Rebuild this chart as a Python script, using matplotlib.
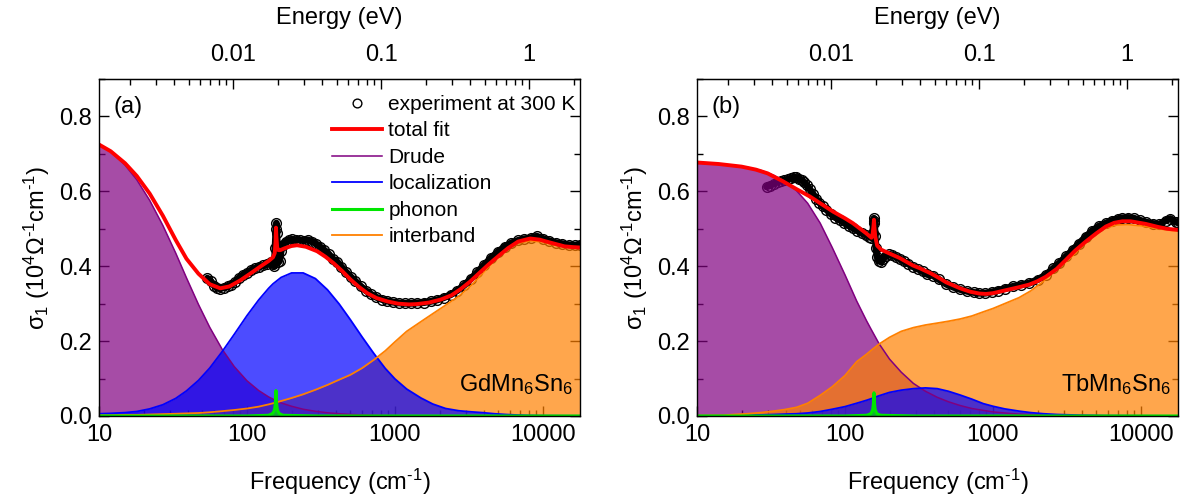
import matplotlib
matplotlib.use("Agg")
import matplotlib.pyplot as plt
from matplotlib.ticker import FixedLocator, LogLocator, MultipleLocator, NullFormatter, FormatStrFormatter

plt.rcParams["font.family"] = ["Liberation Sans", "DejaVu Sans"]
plt.rcParams["mathtext.fontset"] = "custom"
plt.rcParams["mathtext.rm"] = "Liberation Sans"
plt.rcParams["mathtext.it"] = "Liberation Sans:italic"
plt.rcParams["mathtext.default"] = "regular"

# common frequency grid for the fit components (cm^-1)
freq = [10, 12, 15, 18, 22, 27, 33, 39, 47, 56, 68, 82, 100, 120, 140, 150, 170,
        200, 240, 290, 350, 420, 500, 600, 720, 860, 1000, 1200, 1500, 1800, 2200,
        2700, 3300, 3900, 4700, 5600, 6800, 8200, 10000, 12000, 15000, 17800]

# ---- GdMn6Sn6 (a) ----
drude_a = [0.725, 0.706, 0.670, 0.631, 0.576, 0.509, 0.435, 0.369, 0.298, 0.237, 0.178,
           0.132, 0.094, 0.068, 0.051, 0.045, 0.035, 0.026, 0.018, 0.0125, 0.0086, 0.006,
           0.0042, 0.003, 0.002, 0.0014, 0.001, 0.0007, 0.0005, 0.0003, 0.0002, 0.0001,
           0, 0, 0, 0, 0, 0, 0, 0, 0, 0]
local_a = [0.006, 0.007, 0.009, 0.012, 0.019, 0.030, 0.047, 0.067, 0.095, 0.128, 0.172,
           0.218, 0.268, 0.310, 0.341, 0.353, 0.370, 0.382, 0.382, 0.367, 0.337, 0.299,
           0.257, 0.211, 0.167, 0.127, 0.099, 0.072, 0.048, 0.032, 0.020, 0.014, 0.011,
           0.009, 0.006, 0.004, 0.0025, 0.0015, 0.001, 0.0008, 0.0006, 0.0005]
inter_a = [0.002, 0.002, 0.003, 0.003, 0.004, 0.005, 0.006, 0.007, 0.008, 0.010, 0.013,
           0.016, 0.020, 0.025, 0.031, 0.034, 0.040, 0.048, 0.058, 0.070, 0.083, 0.097,
           0.110, 0.128, 0.150, 0.174, 0.198, 0.226, 0.252, 0.273, 0.296, 0.320, 0.350,
           0.380, 0.415, 0.443, 0.462, 0.468, 0.465, 0.457, 0.450, 0.448]

fit_freq_a = [10, 12, 15, 18, 22, 27, 33, 39, 47, 56, 66, 76, 90, 105, 123, 140, 150, 154,
              156, 157, 158, 160, 163, 168, 180, 200, 218, 250, 298, 340, 385, 440, 502,
              570, 650, 750, 888, 1050, 1250, 1416, 1700, 2040, 2400, 2760, 3200, 3720,
              4300, 5000, 5800, 6800, 8200, 9500, 10300, 12000, 14000, 16000, 17800]
fit_a = [0.725, 0.707, 0.675, 0.641, 0.594, 0.535, 0.470, 0.420, 0.380, 0.352, 0.341,
         0.346, 0.362, 0.380, 0.399, 0.414, 0.424, 0.435, 0.465, 0.503, 0.480, 0.450,
         0.443, 0.443, 0.448, 0.454, 0.456, 0.452, 0.440, 0.425, 0.408, 0.387, 0.364,
         0.345, 0.328, 0.315, 0.306, 0.300, 0.298, 0.299, 0.303, 0.311, 0.322, 0.338,
         0.358, 0.382, 0.405, 0.427, 0.448, 0.466, 0.474, 0.471, 0.467, 0.460, 0.453,
         0.451, 0.450]

exp_freq_a = [54, 57, 60, 63, 66, 70, 74, 78, 83, 88, 94, 100, 107, 114, 121, 129, 137,
              145, 150, 153, 155, 157, 158, 159, 161, 163, 166, 170, 176, 183, 192, 202,
              214, 228, 242, 258, 275, 293, 312, 333, 356, 380, 406, 435, 466, 502, 540,
              585, 635, 690, 750, 820, 888, 970, 1060, 1160, 1280, 1416, 1570, 1740, 1930,
              2140, 2380, 2640, 2930, 3250, 3600, 4000, 4450, 4950, 5500, 6100, 6800, 7500,
              8300, 9100, 10000, 11000, 12200, 13500, 15000, 16400, 17800]
exp_a = [0.368, 0.360, 0.348, 0.341, 0.340, 0.343, 0.346, 0.350, 0.358, 0.368, 0.377,
         0.383, 0.390, 0.395, 0.399, 0.402, 0.405, 0.410, 0.405, 0.400, 0.450, 0.500,
         0.515, 0.490, 0.430, 0.410, 0.415, 0.440, 0.458, 0.466, 0.470, 0.472, 0.470,
         0.470, 0.468, 0.470, 0.466, 0.460, 0.452, 0.443, 0.433, 0.420, 0.412, 0.398,
         0.385, 0.372, 0.360, 0.347, 0.335, 0.325, 0.317, 0.311, 0.307, 0.304, 0.302,
         0.301, 0.301, 0.302, 0.303, 0.306, 0.310, 0.316, 0.324, 0.335, 0.349, 0.366,
         0.384, 0.403, 0.422, 0.438, 0.452, 0.462, 0.469, 0.473, 0.476, 0.480, 0.474,
         0.468, 0.463, 0.460, 0.457, 0.456, 0.458]

phonon_freq = [10, 100, 140, 148, 152, 154, 155.5, 156.5, 157, 157.5, 158.5, 160, 162,
               166, 175, 300, 17800]
phonon_a = [0, 0, 0.002, 0.006, 0.012, 0.020, 0.035, 0.055, 0.068, 0.055, 0.035, 0.020,
            0.012, 0.006, 0.002, 0, 0]

# ---- TbMn6Sn6 (b) ----
drude_b = [0.675, 0.674, 0.672, 0.669, 0.664, 0.656, 0.643, 0.627, 0.602, 0.568, 0.515,
           0.450, 0.377, 0.307, 0.254, 0.232, 0.193, 0.152, 0.117, 0.087, 0.066, 0.050,
           0.038, 0.028, 0.020, 0.015, 0.011, 0.008, 0.005, 0.004, 0.003, 0.002, 0.0015,
           0.001, 0.001, 0.0008, 0.0006, 0.0004, 0.0003, 0.0002, 0.0001, 0]
local_b = [0.001, 0.001, 0.0015, 0.002, 0.002, 0.003, 0.004, 0.005, 0.006, 0.008, 0.012,
           0.018, 0.025, 0.034, 0.042, 0.046, 0.054, 0.063, 0.069, 0.073, 0.075, 0.073,
           0.066, 0.056, 0.045, 0.033, 0.026, 0.019, 0.013, 0.009, 0.006, 0.004, 0.003,
           0.002, 0.0015, 0.001, 0.001, 0.0008, 0.0006, 0.0005, 0.0004, 0.0003]
inter_b = [0.001, 0.0015, 0.002, 0.004, 0.006, 0.009, 0.013, 0.017, 0.023, 0.034, 0.055,
           0.078, 0.108, 0.145, 0.165, 0.175, 0.192, 0.210, 0.226, 0.236, 0.243, 0.248,
           0.253, 0.259, 0.267, 0.278, 0.287, 0.300, 0.316, 0.334, 0.360, 0.393, 0.420,
           0.448, 0.480, 0.500, 0.510, 0.511, 0.508, 0.503, 0.497, 0.494]

fit_freq_b = [10, 14, 20, 25, 30, 38, 47, 58, 70, 83, 100, 113, 139, 151, 154, 156, 157,
              158, 160, 165, 176, 200, 234, 288, 319, 380, 435, 483, 600, 700, 809, 898,
              1000, 1224, 1500, 1760, 2000, 2279, 2700, 3110, 3600, 4243, 5000, 5790,
              6600, 7500, 8500, 10770, 13000, 15000, 17800]
fit_b = [0.677, 0.673, 0.666, 0.658, 0.648, 0.627, 0.606, 0.586, 0.565, 0.546, 0.528,
         0.515, 0.488, 0.476, 0.488, 0.510, 0.524, 0.505, 0.480, 0.455, 0.444, 0.434,
         0.422, 0.402, 0.395, 0.381, 0.368, 0.357, 0.341, 0.332, 0.327, 0.326, 0.328,
         0.336, 0.344, 0.351, 0.360, 0.372, 0.393, 0.417, 0.442, 0.466, 0.488, 0.506,
         0.516, 0.520, 0.520, 0.513, 0.505, 0.500, 0.497]

exp_freq_b = [29.5, 31, 33, 35, 37, 39, 41, 43, 45, 47, 49, 51, 53, 55, 58, 61, 64, 67,
              71, 75, 80, 86, 92, 99, 106, 113, 121, 130, 139, 146, 151, 154, 156, 157,
              158, 160, 162, 165, 169, 174, 180, 188, 197, 207, 220, 234, 250, 268, 288,
              310, 335, 360, 393, 430, 483, 540, 600, 670, 740, 809, 890, 980, 1080, 1200,
              1360, 1540, 1760, 2000, 2279, 2550, 2800, 3110, 3450, 3800, 4243, 4700, 5200,
              5790, 6400, 7000, 7500, 8200, 9000, 9800, 10770, 12000, 13300, 14700, 15800,
              17200, 17800]
exp_b = [0.612, 0.615, 0.620, 0.625, 0.628, 0.630, 0.632, 0.635, 0.637, 0.637, 0.634,
         0.630, 0.624, 0.617, 0.605, 0.592, 0.580, 0.570, 0.560, 0.551, 0.540, 0.530,
         0.524, 0.515, 0.508, 0.502, 0.495, 0.488, 0.483, 0.479, 0.476, 0.490, 0.515,
         0.528, 0.520, 0.480, 0.450, 0.425, 0.414, 0.412, 0.418, 0.428, 0.432, 0.430,
         0.425, 0.420, 0.413, 0.406, 0.399, 0.393, 0.386, 0.378, 0.375, 0.365, 0.352,
         0.344, 0.338, 0.333, 0.330, 0.328, 0.328, 0.331, 0.335, 0.340, 0.346, 0.350,
         0.355, 0.364, 0.377, 0.394, 0.408, 0.426, 0.443, 0.460, 0.479, 0.495, 0.507,
         0.515, 0.522, 0.527, 0.529, 0.530, 0.528, 0.523, 0.518, 0.514, 0.512, 0.522,
         0.527, 0.518, 0.516]

phonon_b = [0, 0, 0.002, 0.005, 0.011, 0.018, 0.032, 0.050, 0.062, 0.050, 0.032, 0.018,
            0.011, 0.005, 0.002, 0, 0]

PURPLE = "#800080"
BLUE = "#0000FF"
GREEN = "#00E600"
ORANGE = "#FF8000"
RED = "#FF0000"
CM_PER_EV = 8065.54

panels = [
    ("(a)", "GdMn$_6$Sn$_6$", drude_a, local_a, inter_a, phonon_a, fit_freq_a, fit_a,
     exp_freq_a, exp_a, 99),
    ("(b)", "TbMn$_6$Sn$_6$", drude_b, local_b, inter_b, phonon_b, fit_freq_b, fit_b,
     exp_freq_b, exp_b, 697),
]

fig = plt.figure(figsize=(11.89, 5.03), dpi=100)
W, H = 1189, 503
FS = 17
INV = r"$^{\text{-}1}$"


def cm_to_ev(x):
    return x / CM_PER_EV


def ev_to_cm(x):
    return x * CM_PER_EV


for i, (tag, name, dr, lo, it, ph, ffreq, fit, efreq, ex, left) in enumerate(panels):
    ax = fig.add_axes([left / W, 1 - 416 / H, 481 / W, 337 / H])
    ax.set_axisbelow(True)

    ax.plot(efreq, ex, color="black", lw=5, zorder=1, solid_capstyle="round")
    ax.plot(efreq, ex, "o", mfc="none", mec="black", ms=7, mew=1.0, zorder=1.1,
            label="experiment at 300 K")

    ax.fill_between(freq, 0, dr, color=PURPLE, alpha=0.7, lw=0, zorder=2)
    ax.fill_between(freq, 0, it, color=ORANGE, alpha=0.7, lw=0, zorder=3)
    ax.fill_between(freq, 0, lo, color=BLUE, alpha=0.7, lw=0, zorder=4)
    ax.fill_between(phonon_freq, 0, ph, color=GREEN, alpha=0.7, lw=0, zorder=5)

    ax.plot(ffreq, fit, color=RED, lw=2.8, zorder=8, label="total fit")
    ax.plot(freq, dr, color=PURPLE, lw=1.1, zorder=6, label="Drude")
    ax.plot(freq, lo, color=BLUE, lw=1.3, zorder=6, label="localization")
    ax.plot(phonon_freq, ph, color=GREEN, lw=2.2, zorder=7, label="phonon")
    ax.plot(freq, it, color=ORANGE, lw=1.3, zorder=6, label="interband")

    ax.set_xscale("log")
    ax.set_xlim(10, 17800)
    ax.set_ylim(0, 0.9)
    ax.yaxis.set_major_locator(MultipleLocator(0.2))
    ax.yaxis.set_minor_locator(MultipleLocator(0.1))
    ax.yaxis.set_major_formatter(FormatStrFormatter("%.1f"))
    ax.xaxis.set_major_locator(FixedLocator([10, 100, 1000, 10000]))
    ax.set_xticklabels(["10", "100", "1000", "10000"])
    ax.xaxis.set_minor_locator(LogLocator(base=10, subs=range(2, 10), numticks=20))
    ax.xaxis.set_minor_formatter(NullFormatter())
    ax.tick_params(which="both", direction="in", right=True, top=False,
                   labelsize=FS, width=1.0)
    ax.tick_params(which="major", length=7)
    ax.tick_params(which="minor", length=4)
    ax.tick_params(axis="x", pad=6)
    ax.tick_params(axis="y", pad=5)
    for sp in ax.spines.values():
        sp.set_linewidth(1.0)
        sp.set_zorder(10)

    ax.set_xlabel("Frequency (cm" + INV + ")", fontsize=FS, labelpad=15)
    ax.set_ylabel("σ$_1$ (10$^4$Ω" + INV + "cm" + INV + ")", fontsize=FS, labelpad=5)

    sec = ax.secondary_xaxis("top", functions=(cm_to_ev, ev_to_cm))
    sec.xaxis.set_major_locator(FixedLocator([0.01, 0.1, 1]))
    sec.set_xticklabels(["0.01", "0.1", "1"])
    sec.xaxis.set_minor_locator(LogLocator(base=10, subs=range(2, 10), numticks=20))
    sec.xaxis.set_minor_formatter(NullFormatter())
    sec.tick_params(which="both", direction="in", labelsize=FS, width=1.0, pad=9)
    sec.tick_params(which="major", length=7)
    sec.tick_params(which="minor", length=4)
    sec.set_xlabel("Energy (eV)", fontsize=FS, labelpad=15)

    ax.text(0.03, 0.95, tag, transform=ax.transAxes, fontsize=FS, va="top", ha="left")
    ax.text(0.985, 0.055, name, transform=ax.transAxes, fontsize=FS, va="bottom",
            ha="right", zorder=12)

    if i == 0:
        handles, labels = ax.get_legend_handles_labels()
        leg = ax.legend(handles, labels, loc="upper right", bbox_to_anchor=(1.0, 0.965),
                        frameon=False, fontsize=15, handlelength=2.4,
                        handletextpad=0.3, labelspacing=0.36, borderpad=0.1,
                        borderaxespad=0.1, markerscale=0.9)
        leg.set_zorder(12)

fig.savefig("out.png", dpi=100)
